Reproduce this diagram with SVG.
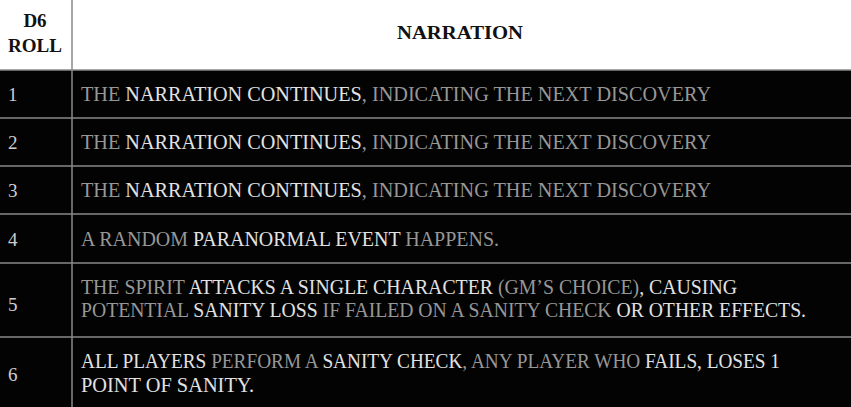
<svg xmlns="http://www.w3.org/2000/svg" width="851" height="407" viewBox="0 0 851 407">
<style>
.hd{font-family:"Liberation Serif","DejaVu Serif",serif;font-weight:bold;font-size:19px;fill:#111;}
.tx{font-family:"Liberation Serif","DejaVu Serif",serif;font-size:20px;fill:#979797;}
.b{fill:#e2e2e2;}
.num{font-family:"Liberation Serif","DejaVu Serif",serif;font-size:19px;fill:#cfcfcf;}
.grid{stroke:#8a8a8a;stroke-width:1.5;fill:none;}
</style>
<rect x="0" y="0" width="851" height="70" fill="#ffffff"/>
<rect x="0" y="70" width="851" height="337" fill="#030303"/>
<g id="grid">
<line class="grid" x1="0" y1="70" x2="851" y2="70" stroke="#a0a0a0"/>
<line class="grid" x1="0" y1="118" x2="851" y2="118"/>
<line class="grid" x1="0" y1="166" x2="851" y2="166"/>
<line class="grid" x1="0" y1="214" x2="851" y2="214"/>
<line class="grid" x1="0" y1="263" x2="851" y2="263"/>
<line class="grid" x1="0" y1="337" x2="851" y2="337"/>
<line class="grid" x1="72" y1="0" x2="72" y2="407" stroke="#9a9a9a"/>
</g>
<g id="header">
<text class="hd" x="35" y="27" text-anchor="middle">D6</text>
<text class="hd" x="35" y="52" text-anchor="middle" textLength="54" lengthAdjust="spacingAndGlyphs">ROLL</text>
<text class="hd" x="460" y="39" text-anchor="middle" font-size="20" textLength="126" lengthAdjust="spacingAndGlyphs">NARRATION</text>
</g>
<g id="row1">
<text class="num" x="8" y="101">1</text>
<text class="tx" x="81" y="101" textLength="630" lengthAdjust="spacingAndGlyphs">THE <tspan class="b">NARRATION CONTINUES</tspan>, INDICATING THE NEXT DISCOVERY</text>
</g>
<g id="row2">
<text class="num" x="8" y="149">2</text>
<text class="tx" x="81" y="149" textLength="630" lengthAdjust="spacingAndGlyphs">THE <tspan class="b">NARRATION CONTINUES</tspan>, INDICATING THE NEXT DISCOVERY</text>
</g>
<g id="row3">
<text class="num" x="8" y="197">3</text>
<text class="tx" x="81" y="197" textLength="630" lengthAdjust="spacingAndGlyphs">THE <tspan class="b">NARRATION CONTINUES</tspan>, INDICATING THE NEXT DISCOVERY</text>
</g>
<g id="row4">
<text class="num" x="8" y="246">4</text>
<text class="tx" x="81" y="246" textLength="418" lengthAdjust="spacingAndGlyphs">A RANDOM <tspan class="b">PARANORMAL EVENT</tspan> HAPPENS.</text>
</g>
<g id="row5">
<text class="num" x="8" y="311">5</text>
<text class="tx" x="81" y="294" textLength="656" lengthAdjust="spacingAndGlyphs">THE SPIRIT <tspan class="b">ATTACKS A SINGLE CHARACTER</tspan> (GM’S CHOICE)<tspan class="b">, CAUSING</tspan></text>
<text class="tx" x="81" y="317" textLength="725" lengthAdjust="spacingAndGlyphs">POTENTIAL <tspan class="b">SANITY LOSS</tspan> IF FAILED ON A SANITY CHECK <tspan class="b">OR OTHER EFFECTS.</tspan></text>
</g>
<g id="row6">
<text class="num" x="8" y="381">6</text>
<text class="tx" x="81" y="368" textLength="699" lengthAdjust="spacingAndGlyphs"><tspan class="b">ALL PLAYERS</tspan> PERFORM A <tspan class="b">SANITY CHECK</tspan>, ANY PLAYER WHO <tspan class="b">FAILS, LOSES 1</tspan></text>
<text class="tx b" x="81" y="392" textLength="173" lengthAdjust="spacingAndGlyphs">POINT OF SANITY.</text>
</g>
</svg>
